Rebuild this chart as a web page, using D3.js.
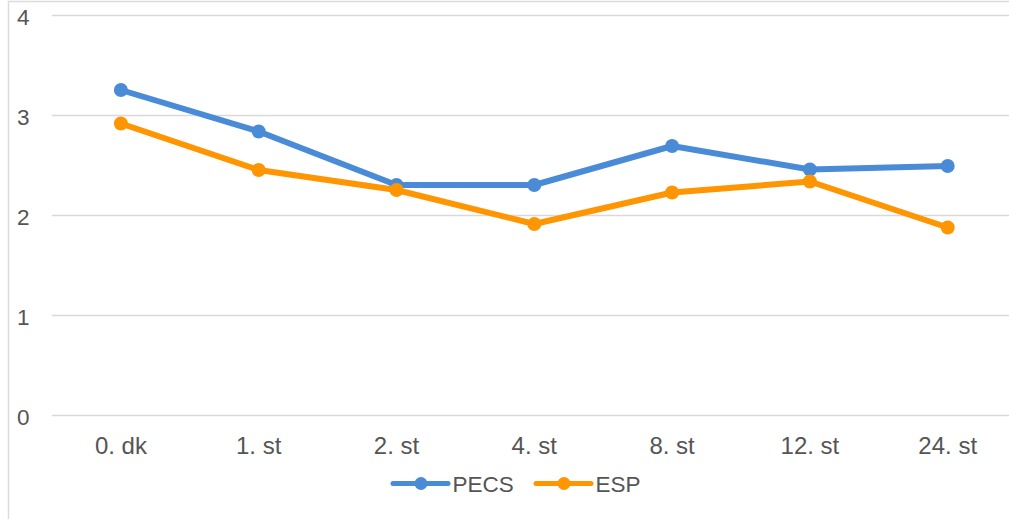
<!DOCTYPE html>
<html>
<head>
<meta charset="utf-8">
<script src="https://cdn.jsdelivr.net/npm/d3@7"></script>
<style>
  html, body { margin: 0; padding: 0; background: #fff; }
  svg { display: block; font-family: "Liberation Sans", Arial, sans-serif; }
</style>
</head>
<body>
<svg id="chart" width="1009" height="519"></svg>
<script>
const categories = ["0. dk", "1. st", "2. st", "4. st", "8. st", "12. st", "24. st"];
const pecsValues = [3.255, 2.84, 2.305, 2.305, 2.695, 2.46, 2.495];
const espValues  = [2.92, 2.455, 2.255, 1.915, 2.23, 2.34, 1.88];
const yTicks = [0, 1, 2, 3, 4];
const seriesNames = ["PECS", "ESP"];
const seriesColors = ["#4A8BD8", "#FF9500"];

const series = [
  { name: seriesNames[0], values: pecsValues, color: seriesColors[0] },
  { name: seriesNames[1], values: espValues, color: seriesColors[1] }
];

const svg = d3.select("#chart");
const W = 1009, H = 519;
const plot = { left: 52, right: 1016.6, top: 15.5, bottom: 415.5 };

// outer frame (left and top edges visible)
svg.append("path")
  .attr("d", `M8.5,${H + 2} V1.5 H${W + 2}`)
  .attr("fill", "none")
  .attr("stroke", "#dcdcdc")
  .attr("stroke-width", 1.5);

const x = d3.scaleBand().domain(categories).range([plot.left, plot.right]);
const y = d3.scaleLinear().domain([0, 4]).range([plot.bottom, plot.top]);

// horizontal gridlines
svg.append("g").selectAll("line")
  .data(yTicks)
  .join("line")
  .attr("x1", plot.left).attr("x2", W)
  .attr("y1", d => y(d)).attr("y2", d => y(d))
  .attr("stroke", "#d9d9d9")
  .attr("stroke-width", 1.6);

// y tick labels
svg.append("g").selectAll("text")
  .data(yTicks)
  .join("text")
  .attr("x", 17)
  .attr("y", d => y(d) + 9.5)
  .attr("font-size", 22.5)
  .attr("fill", "#555")
  .text(d => d);

// x tick labels
svg.append("g").selectAll("text")
  .data(categories)
  .join("text")
  .attr("x", d => x(d) + x.bandwidth() / 2)
  .attr("y", 454)
  .attr("text-anchor", "middle")
  .attr("font-size", 24)
  .attr("fill", "#555")
  .text(d => d);

const line = d3.line()
  .x((d, i) => x(categories[i]) + x.bandwidth() / 2)
  .y(d => y(d));

const lines = svg.append("g");
series.forEach(s => {
  lines.append("path")
    .datum(s.values)
    .attr("d", line)
    .attr("fill", "none")
    .attr("stroke", s.color)
    .attr("stroke-width", 6)
    .attr("stroke-linejoin", "round");
  lines.append("g").selectAll("circle")
    .data(s.values)
    .join("circle")
    .attr("cx", (d, i) => x(categories[i]) + x.bandwidth() / 2)
    .attr("cy", d => y(d))
    .attr("r", 7)
    .attr("fill", s.color);
});

// legend
const legendY = 483.5;
const legendX = [393, 536];
const legend = svg.append("g");
series.forEach((s, i) => {
  const g = legend.append("g").attr("transform", `translate(${legendX[i]},${legendY})`);
  g.append("line")
    .attr("x1", 0).attr("x2", 55)
    .attr("y1", 0).attr("y2", 0)
    .attr("stroke", s.color)
    .attr("stroke-width", 5)
    .attr("stroke-linecap", "round");
  g.append("circle").attr("cx", 28).attr("cy", 0).attr("r", 6.5).attr("fill", s.color);
  g.append("text")
    .attr("x", 59.5).attr("y", 8)
    .attr("font-size", 22.5)
    .attr("fill", "#555")
    .text(s.name);
});
</script>
</body>
</html>
